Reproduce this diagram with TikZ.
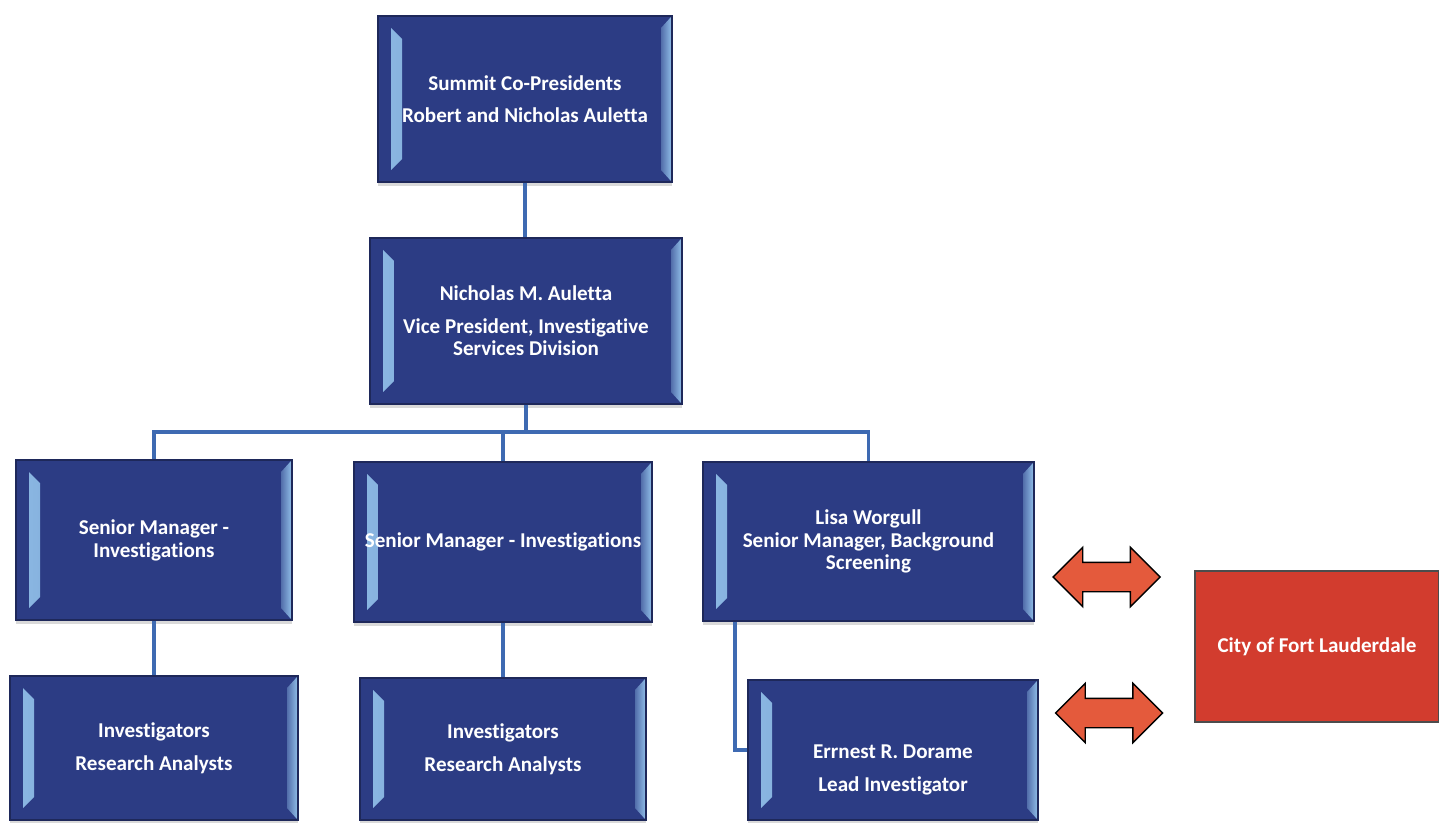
\documentclass[tikz,border=0pt]{standalone}
\usepackage{fontspec}
\setmainfont{Carlito}[Ligatures=NoCommon]
\usetikzlibrary{shapes.arrows,calc,shadows}

\definecolor{boxblue}{RGB}{44,60,132}
\definecolor{boxedge}{RGB}{30,40,90}
\definecolor{bevellight}{RGB}{140,185,228}
\definecolor{linkblue}{RGB}{62,106,178}
\definecolor{cityred}{RGB}{210,60,46}
\definecolor{arrowred}{RGB}{228,90,60}

\tikzset{
  beveled/.style={path picture={
    % left bevel strip
    \fill[left color=bevellight, right color=boxblue!60!bevellight]
      ($(path picture bounding box.north west)+(0.26,-0.24)$) --
      ($(path picture bounding box.north west)+(0.48,-0.46)$) --
      ($(path picture bounding box.south west)+(0.48,0.46)$) --
      ($(path picture bounding box.south west)+(0.26,0.24)$) -- cycle;
    % right bevel strip
    \fill[left color=boxblue!60!bevellight, right color=bevellight]
      ($(path picture bounding box.north east)+(-0.02,-0.02)$) --
      ($(path picture bounding box.north east)+(-0.22,-0.24)$) --
      ($(path picture bounding box.south east)+(-0.22,0.24)$) --
      ($(path picture bounding box.south east)+(-0.02,0.02)$) -- cycle;
  }},
  orgbox/.style={draw=boxedge, line width=0.8pt, fill=boxblue, text=white,
    font=\bfseries\fontsize{12}{13}\selectfont, align=center, inner sep=0pt,
    beveled, drop shadow={shadow xshift=0pt, shadow yshift=-2pt, fill=black!25, opacity=0.6}},
  link/.style={draw=linkblue, line width=2.2pt},
  swap/.style={double arrow, draw=black, line width=0.8pt, fill=arrowred,
    inner xsep=0pt, inner ysep=0.28cm, minimum height=2.14cm,
    double arrow head extend=0.3cm}
}

\begin{document}
\begin{tikzpicture}
\useasboundingbox (0,0) rectangle (28.78,-16.46);

% Top levels
\node[orgbox, minimum width=5.88cm, minimum height=3.32cm] (pres) at (10.5,-1.98)
  {Summit Co-Presidents\\[5.5pt]Robert and Nicholas Auletta};
\node[orgbox, minimum width=6.24cm, minimum height=3.32cm] (vp) at (10.52,-6.42)
  {Nicholas M. Auletta\\[5.5pt]Vice President, Investigative\\Services Division};

% Managers
\node[orgbox, minimum width=5.52cm, minimum height=3.2cm] (mgrA) at (3.08,-10.8)
  {Senior Manager -\\Investigations};
\node[orgbox, minimum width=5.96cm, minimum height=3.2cm] (mgrB) at (10.06,-10.84)
  {Senior Manager - Investigations};
\node[orgbox, minimum width=6.62cm, minimum height=3.18cm] (mgrC) at (17.37,-10.83)
  {Lisa Worgull\\Senior Manager, Background\\Screening};

% Staff
\node[orgbox, minimum width=5.76cm, minimum height=2.88cm] (staffA) at (3.08,-14.96)
  {Investigators\\[5.5pt]Research Analysts};
\node[orgbox, minimum width=5.72cm, minimum height=2.84cm] (staffB) at (10.06,-14.98)
  {Investigators\\[5.5pt]Research Analysts};
\node[orgbox, minimum width=5.8cm, minimum height=2.8cm] (lead) at (17.86,-15.0)
  {\mbox{}\\[0.62cm]Errnest R. Dorame\\[5.5pt]Lead Investigator};

% Client
\node[draw=black!70, line width=0.8pt, fill=cityred, text=white,
  font=\bfseries\fontsize{12}{13}\selectfont,
  minimum width=4.88cm, minimum height=3.02cm] (city) at (26.34,-12.93)
  {City of Fort Lauderdale};

% Exchange arrows
\node[swap] (swapC) at (22.13,-11.54) {};
\node[swap] (swapL) at (22.18,-14.26) {};

% Connectors
\coordinate (bus) at (0,-8.64);
\draw[link] (pres.south) -- (pres.south |- vp.north);
\draw[link] (vp.south) -- (vp.south |- bus);
\draw[link] (mgrA.north) -- (mgrA.north |- bus) -- (mgrC.north |- bus) -- (mgrC.north);
\draw[link] (mgrB.north) -- (mgrB.north |- bus);
\draw[link] (mgrA.south) -- (staffA.north);
\draw[link] (mgrB.south) -- (staffB.north);
\coordinate (leadtap) at ($(mgrC.south west)+(0.66,0)$);
\draw[link] (leadtap) |- (lead.west);
\end{tikzpicture}
\end{document}
